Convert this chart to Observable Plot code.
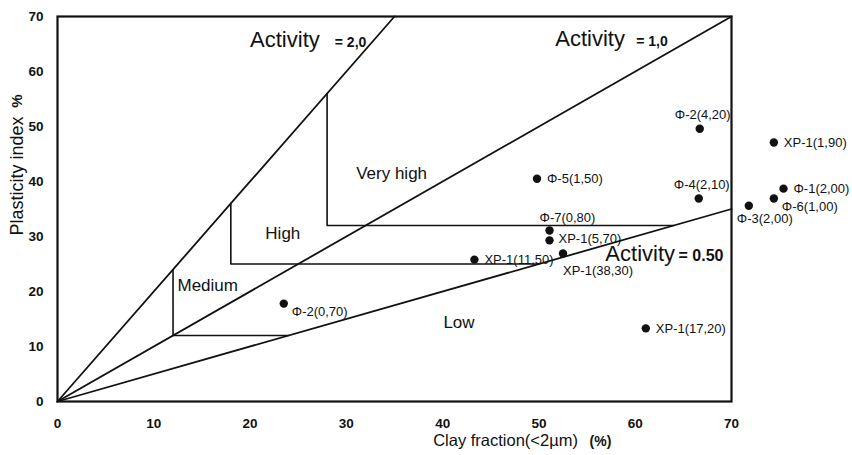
<!DOCTYPE html>
<html><head><meta charset="utf-8">
<script src="https://cdn.jsdelivr.net/npm/d3@7"></script>
<script src="https://cdn.jsdelivr.net/npm/@observablehq/plot@0.6"></script>
<style>
body{margin:0;background:#fff;}
#chart svg{font-family:"Liberation Sans",Arial,sans-serif;}
</style>
</head><body><div id="chart"></div>
<script>
// ---- data ----
const sampleNames = ["Φ-2(4,20)","XP-1(1,90)","Φ-4(2,10)","Φ-1(2,00)","Φ-6(1,00)","Φ-3(2,00)","Φ-5(1,50)","Φ-7(0,80)","XP-1(5,70)","XP-1(38,30)","XP-1(11,50)","Φ-2(0,70)","XP-1(17,20)"];
const clayFraction = [66.7, 74.4, 66.6, 75.4, 74.4, 71.8, 49.8, 51.1, 51.1, 52.5, 43.3, 23.5, 61.1];
const plasticityIndex = [49.6, 47.1, 36.9, 38.7, 36.9, 35.6, 40.5, 31.1, 29.3, 26.9, 25.8, 17.8, 13.3];
const labelPlacement = ["t","r","t","r","br","bl","r","tl","ru","b","r","br","r"];

const activityValues = [2.0, 1.0, 0.5];
const activityWord = ["Activity","Activity","Activity"];
const activityValueText = ["= 2,0","= 1,0","= 0.50"];
const activityWordX = [20.0, 51.7, 56.9];
const activityValueX = [28.8, 60.1, 64.5];
const activityLabelY = [64.4, 64.7, 25.5];

const zoneNames = ["Medium","High","Very high"];
const zoneLeftClay = [12, 18, 28];
const zoneFloorPI = [12, 25, 32];
const zoneLabels = ["Medium","High","Very high","Low"];
const zoneLabelX = [15.6, 23.4, 34.7, 41.7];
const zoneLabelY = [21.1, 30.5, 41.5, 14.3];

const xTicks = [0,10,20,30,40,50,60,70];
const yTicks = [0,10,20,30,40,50,60,70];
const xMax = 70, yMax = 70;

// ---- derived tables ----
const samples = sampleNames.map((n,i)=>({name:n, x:clayFraction[i], y:plasticityIndex[i], p:labelPlacement[i]}));
const activityLines = activityValues.flatMap(a => {
  const xe = Math.min(xMax, yMax / a);
  return [{a, x:0, y:0}, {a, x:xe, y:a*xe}];
});
const zoneLines = zoneNames.flatMap((z,i) => {
  const x0 = zoneLeftClay[i], yf = zoneFloorPI[i];
  return [
    {z, x:x0, y:2*x0},
    {z, x:x0, y:yf},
    {z, x:yf/0.5, y:yf}
  ];
});
const place = {
  r:  {anchor:"start",  dx:10,  dy:0},
  ru: {anchor:"start",  dx:9,   dy:-1.5},
  t:  {anchor:"middle", dx:3,   dy:-14},
  tl: {anchor:"start",  dx:-10, dy:-13},
  br: {anchor:"start",  dx:8,   dy:8},
  b:  {anchor:"start",  dx:0,   dy:17},
  bl: {anchor:"start",  dx:-12, dy:13}
};
const labelMarks = Object.entries(place).map(([k,o]) =>
  Plot.text(samples.filter(d=>d.p===k), {x:"x", y:"y", text:"name", textAnchor:o.anchor, dx:o.dx, dy:o.dy, fontSize:13, fill:"#111"})
);
const actTable = activityWord.map((w,i)=>({w, v:activityValueText[i], xw:activityWordX[i], xv:activityValueX[i], y:activityLabelY[i], big: i===2}));
const zoneTable = zoneLabels.map((t,i)=>({t, x:zoneLabelX[i], y:zoneLabelY[i]}));

const chart = Plot.plot({
  width: 852,
  height: 455,
  marginLeft: 57,
  marginRight: 121,
  marginTop: 16,
  marginBottom: 54,
  style: {fontFamily: '"Liberation Sans", Arial, sans-serif', background: "#fff", color: "#111"},
  x: {domain: [0, xMax]},
  y: {domain: [0, yMax]},
  marks: [
    Plot.axisX({ticks: xTicks, tickSize: 0, tickPadding: 17, fontSize: 13.5, fontWeight: "bold", label: null}),
    Plot.axisY({ticks: yTicks, tickSize: 0, tickPadding: 14, fontSize: 13.5, fontWeight: "bold", label: null}),
    Plot.line(activityLines, {x:"x", y:"y", z:"a", stroke:"#111", strokeWidth:1.8}),
    Plot.line(zoneLines, {x:"x", y:"y", z:"z", stroke:"#111", strokeWidth:1.6}),
    Plot.frame({stroke:"#111", strokeWidth:2.2}),
    Plot.dot(samples, {x:"x", y:"y", r:4.2, fill:"#111", stroke:"none"}),
    ...labelMarks,
    Plot.text(zoneTable, {x:"x", y:"y", text:"t", fontSize:17, fill:"#111"}),
    Plot.text(actTable, {x:"xw", y:"y", text:"w", textAnchor:"start", lineAnchor:"bottom", fontSize:22, fill:"#111"}),
    Plot.text(actTable.filter(d=>!d.big), {x:"xv", y:"y", text:"v", textAnchor:"start", lineAnchor:"bottom", fontSize:14, fontWeight:"bold", fill:"#111"}),
    Plot.text(actTable.filter(d=>d.big), {x:"xv", y:"y", text:"v", textAnchor:"start", lineAnchor:"bottom", fontSize:16, fontWeight:"bold", fill:"#111"}),
    Plot.text(["Plasticity index"], {frameAnchor:"left", textAnchor:"middle", lineAnchor:"middle", dx:-40, dy:-33, rotate:-90, fontSize:18, fill:"#111"}),
    Plot.text(["%"], {frameAnchor:"left", textAnchor:"middle", lineAnchor:"middle", dx:-40, dy:-108, rotate:-90, fontSize:15, fontWeight:"bold", fill:"#111"}),
    Plot.text(["Clay fraction(<2µm)"], {frameAnchor:"bottom", textAnchor:"middle", lineAnchor:"middle", dx:111, dy:39, fontSize:16.5, fill:"#111"}),
    Plot.text(["(%)"], {frameAnchor:"bottom", textAnchor:"middle", lineAnchor:"middle", dx:206, dy:40, fontSize:14, fontWeight:"bold", fill:"#111"})
  ]
});
document.getElementById("chart").append(chart);
</script>
</body></html>
